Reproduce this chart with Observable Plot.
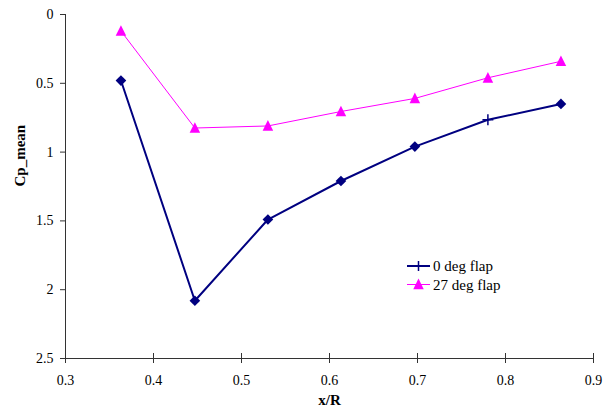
<!DOCTYPE html>
<html>
<head>
<meta charset="utf-8">
<script src="https://cdn.jsdelivr.net/npm/d3@7"></script>
<script src="https://cdn.jsdelivr.net/npm/@observablehq/plot@0.6"></script>
<style>
  body { margin: 0; background: #fff; }
  #chart { position: relative; width: 610px; height: 412px; }
</style>
</head>
<body>
<div id="chart"></div>
<script>
// Radial stations and mean pressure coefficient for both flap settings
const xR = [0.363, 0.447, 0.530, 0.613, 0.697, 0.780, 0.863];
const cp0deg = [0.48, 2.08, 1.49, 1.21, 0.96, 0.765, 0.65];
const cp27deg = [0.12, 0.825, 0.81, 0.705, 0.61, 0.46, 0.34];
const seriesNames = ["0 deg flap", "27 deg flap"];
const xTicks = [0.3, 0.4, 0.5, 0.6, 0.7, 0.8, 0.9];
const yTicks = [0, 0.5, 1, 1.5, 2, 2.5];

const navy = "#000080";
const magenta = "#ff00ff";
const axisColor = "#333";
const font = "'Liberation Serif', 'Times New Roman', serif";

const rows0 = xR.map((x, i) => ({x, cp: cp0deg[i], i}));
const rows27 = xR.map((x, i) => ({x, cp: cp27deg[i], i}));

// The 0.78 station keeps the series' default plus marker; the others are diamonds
const plusStation = 0.780;

// Filled triangle a little taller than d3's equilateral one
const tallTriangle = {
  draw(context, size) {
    const s = Math.sqrt(size);
    context.moveTo(0, -0.56 * s);
    context.lineTo(0.5 * s, 0.46 * s);
    context.lineTo(-0.5 * s, 0.46 * s);
    context.closePath();
  }
};
const triR = 10.5 / Math.sqrt(Math.PI);

const plot = Plot.plot({
  width: 610,
  height: 412,
  marginLeft: 65,
  marginRight: 17,
  marginTop: 14,
  marginBottom: 54,
  style: {fontFamily: font, fontSize: "14px", color: "#000", background: "#fff", overflow: "visible"},
  x: {domain: [0.3, 0.9]},
  y: {domain: [0, 2.5], reverse: true},
  marks: [
    Plot.axisY({ticks: yTicks, tickSize: 5, tickPadding: 7, tickFormat: d => String(d), label: null, stroke: axisColor}),
    Plot.axisX({ticks: xTicks, tickSize: 5, tickPadding: 12, tickFormat: d => String(d), label: null, stroke: axisColor}),
    // upper half of the crossing x ticks
    Plot.ruleX(xTicks, {x: d => d, y1: 2.5, y2: 2.5, insetTop: -5, insetBottom: 0, stroke: axisColor}),
    Plot.ruleX([0.3], {stroke: axisColor}),
    Plot.ruleY([2.5], {stroke: axisColor}),
    Plot.line(rows27, {x: "x", y: "cp", stroke: magenta, strokeWidth: 1}),
    Plot.line(rows0, {x: "x", y: "cp", stroke: navy, strokeWidth: 2}),
    Plot.dot(rows27, {x: "x", y: "cp", symbol: tallTriangle, r: triR, fill: magenta, stroke: "none"}),
    Plot.dot(rows0.filter(d => d.x !== plusStation), {x: "x", y: "cp", symbol: "diamond2", r: 4.8, fill: navy, stroke: "none"}),
    Plot.dot(rows0.filter(d => d.x === plusStation), {x: "x", y: "cp", symbol: "plus", r: 3.6, stroke: navy, strokeWidth: 1.5, fill: "none"}),
    Plot.text(["Cp_mean"], {frameAnchor: "left", dx: -45, rotate: -90, fontWeight: "bold", fontSize: 15}),
    Plot.text(["x/R"], {frameAnchor: "bottom", dy: 46, fontWeight: "bold", fontSize: 15})
  ]
});

document.getElementById("chart").appendChild(plot);

// Legend inside the plotting area
const svg = d3.select(plot);
const legend = svg.append("g")
  .attr("font-family", font)
  .attr("font-size", 15)
  .attr("text-anchor", "start");
const entries = [
  {name: seriesNames[0], color: navy, width: 2, y: 266, marker: "plus"},
  {name: seriesNames[1], color: magenta, width: 1, y: 284.5, marker: "triangle"}
];
entries.forEach(e => {
  legend.append("line").attr("x1", 407).attr("x2", 430).attr("y1", e.y).attr("y2", e.y)
    .attr("stroke", e.color).attr("stroke-width", e.width);
  if (e.marker === "plus") {
    legend.append("line").attr("x1", 418.5).attr("x2", 418.5).attr("y1", e.y - 5).attr("y2", e.y + 5)
      .attr("stroke", e.color).attr("stroke-width", 1.5);
  } else {
    const size = triR * triR * Math.PI;
    legend.append("path").attr("transform", `translate(418.5,${e.y})`)
      .attr("d", d3.symbol(tallTriangle, size)()).attr("fill", e.color);
  }
  legend.append("text").attr("x", 433).attr("y", e.y + 5).attr("fill", "#000")
    .style("text-anchor", "start").text(e.name);
});
</script>
</body>
</html>
